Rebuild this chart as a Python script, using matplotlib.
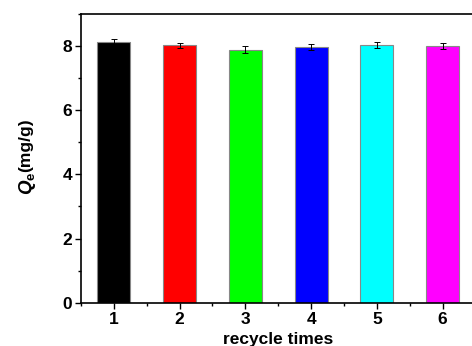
import numpy as np
import matplotlib.pyplot as plt
from matplotlib.ticker import MultipleLocator

plt.rcParams['font.family'] = ['Liberation Sans', 'DejaVu Sans']
plt.rcParams['mathtext.fontset'] = 'custom'
plt.rcParams['mathtext.it'] = 'Liberation Sans:italic:bold'
plt.rcParams['mathtext.rm'] = 'Liberation Sans:bold'

cycles = [1, 2, 3, 4, 5, 6]
qe = [8.13, 8.02, 7.89, 7.97, 8.04, 8.00]
err = [0.09, 0.09, 0.10, 0.10, 0.09, 0.10]
colors = ['#000000', '#ff0000', '#00ff00', '#0000ff', '#00ffff', '#ff00ff']

fig = plt.figure(figsize=(4.72, 3.46), dpi=100)
ax = fig.add_axes([81 / 472, 1 - 302.7 / 346, (475.5 - 81) / 472, (302.7 - 14) / 346])

ax.bar(cycles, qe, width=0.5, color=colors, edgecolor='#888888', linewidth=0.8,
       yerr=err, capsize=2.5, error_kw=dict(ecolor='black', elinewidth=0.7, capthick=0.7))

ax.set_xlim(0.5, 6.5)
ax.set_ylim(0, 9)
ax.set_xticks(cycles)
ax.set_yticks([0, 2, 4, 6, 8])
ax.xaxis.set_minor_locator(MultipleLocator(0.5))
ax.yaxis.set_minor_locator(MultipleLocator(1))
ax.tick_params(which='major', direction='out', length=4.5, width=1, labelsize=12.5, pad=2)
ax.tick_params(which='minor', direction='out', length=2.5, width=1)
ax.spines['right'].set_visible(False)
for s in ['left', 'bottom', 'top']:
    ax.spines[s].set_linewidth(1.2)
for lab in ax.get_xticklabels() + ax.get_yticklabels():
    lab.set_fontweight('bold')

ax.set_xlabel('recycle times', fontsize=12.5, fontweight='bold')
ax.xaxis.set_label_coords(0.5, -0.103)
# y label: big italic Q with subscript, unit text above it
fig.text(0.058, 0.47, r'$Q_\mathrm{e}$', rotation=90, va='center', ha='center', fontsize=13.5)
fig.text(0.054, 0.58, '(mg/g)', rotation=90, va='center', ha='center', fontsize=12.5,
         fontweight='bold')

fig.savefig('out.png', dpi=100)
